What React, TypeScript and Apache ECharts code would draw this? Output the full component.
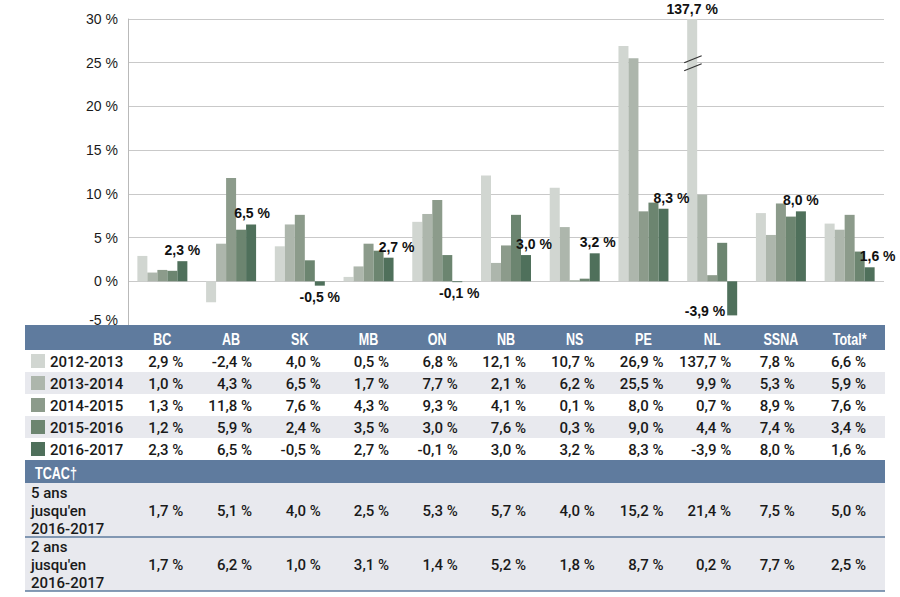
import React, { useEffect, useRef } from "react";
import * as echarts from "echarts";

// ---------- data ----------
const categories = ["BC", "AB", "SK", "MB", "ON", "NB", "NS", "PE", "NL", "SSNA", "Total*"];
const years = ["2012-2013", "2013-2014", "2014-2015", "2015-2016", "2016-2017"];
const s2012 = [2.9, -2.4, 4.0, 0.5, 6.8, 12.1, 10.7, 26.9, 137.7, 7.8, 6.6];
const s2013 = [1.0, 4.3, 6.5, 1.7, 7.7, 2.1, 6.2, 25.5, 9.9, 5.3, 5.9];
const s2014 = [1.3, 11.8, 7.6, 4.3, 9.3, 4.1, 0.1, 8.0, 0.7, 8.9, 7.6];
const s2015 = [1.2, 5.9, 2.4, 3.5, 3.0, 7.6, 0.3, 9.0, 4.4, 7.4, 3.4];
const s2016 = [2.3, 6.5, -0.5, 2.7, -0.1, 3.0, 3.2, 8.3, -3.9, 8.0, 1.6];
const seriesValues = [s2012, s2013, s2014, s2015, s2016];
const tcacTitle = "TCAC†";
const tcacLabels = [
  ["5 ans", "jusqu'en", "2016-2017"],
  ["2 ans", "jusqu'en", "2016-2017"],
];
const cagr5 = [1.7, 5.1, 4.0, 2.5, 5.3, 5.7, 4.0, 15.2, 21.4, 7.5, 5.0];
const cagr2 = [1.7, 6.2, 1.0, 3.1, 1.4, 5.2, 1.8, 8.7, 0.2, 7.7, 2.5];
const tcacValues = [cagr5, cagr2];
const yTicks = { min: -5, max: 30, interval: 5 };
const breakAt = 25; // value where the axis-break marks sit on the clipped bar

// ---------- styles ----------
const colors = ["#d1d6d1", "#adb6ac", "#8c9b8b", "#6c8570", "#4f705b"];
const headerBlue = "#5f7b9e";
const rowGrey = "#e8e9ee";
const textDark = "#1a1a1a";
const arial = '"Liberation Sans", Arial, sans-serif';
const bodyFont = 'Roboto, "Noto Sans", sans-serif';
const labelNudge = [0, 1, 0, 8, 2, 8, 3, 8, 0, 0, 8];
const valueShift = [21, 21, 21, 20.5, 20.5, 20, 20, 20, 19, 14, 16.5];

const fmt = (v: number) => v.toFixed(1).replace(".", ",") + " %";

export default function App() {
  const ref = useRef<HTMLDivElement>(null);

  useEffect(() => {
    const chart = echarts.init(ref.current!, null, { renderer: "svg" });

    const labelBase = {
      show: true,
      fontFamily: arial,
      fontWeight: "bold" as const,
      fontSize: 14,
      color: "#111",
      distance: 4,
    };

    const series: any[] = seriesValues.map((vals, si) => ({
      name: years[si],
      type: "bar",
      barWidth: 10,
      barGap: "0%",
      itemStyle: { color: colors[si] },
      label: { show: false },
      data: vals.map((v, i) => {
        const item: any = { value: Math.min(v, yTicks.max) };
        if (si === 4) {
          if (v < 0 && categories[i] === "NL") {
            item.label = { ...labelBase, position: "left", distance: 2, offset: [0, 13], formatter: () => fmt(v) };
          } else {
            item.label = {
              ...labelBase,
              position: v < 0 ? "bottom" : "top",
              offset: [labelNudge[i], 0],
              formatter: () => fmt(v),
            };
          }
        } else if (v > yTicks.max) {
          item.label = { ...labelBase, position: "top", distance: 3, formatter: () => fmt(v) };
        }
        return item;
      }),
    }));

    // axis-break marks on bars that exceed the axis max
    const breakData: any[] = [];
    seriesValues.forEach((vals, si) =>
      vals.forEach((v, i) => {
        if (v > yTicks.max) breakData.push([i, breakAt, si]);
      })
    );
    series.push({
      type: "custom",
      silent: true,
      z: 10,
      data: breakData,
      renderItem: (_params: any, api: any) => {
        const p = api.coord([api.value(0), api.value(1)]);
        const si = api.value(2);
        const barCenter = p[0] + (si - 2) * 10;
        const x1 = barCenter - 8;
        const x2 = barCenter + 9.5;
        const st = { stroke: "#333", lineWidth: 1.2 };
        return {
          type: "group",
          children: [
            { type: "line", shape: { x1, y1: p[1], x2, y2: p[1] - 7 }, style: st },
            { type: "line", shape: { x1, y1: p[1] + 8, x2, y2: p[1] + 1 }, style: st },
          ],
        };
      },
    });

    chart.setOption({
      animation: false,
      grid: { left: 128, right: 16, top: 19, bottom: 272 },
      xAxis: {
        type: "category",
        data: categories,
        axisLine: { show: false },
        axisTick: { show: false },
        axisLabel: { show: false },
        splitLine: { show: false },
      },
      yAxis: {
        type: "value",
        min: yTicks.min,
        max: yTicks.max,
        interval: yTicks.interval,
        axisLine: { show: true, lineStyle: { color: "#b9b9b9", width: 1 } },
        axisTick: { show: false },
        splitLine: { lineStyle: { color: "#c9c9c9", width: 1 } },
        axisLabel: {
          formatter: (v: number) => (v === yTicks.min ? `{low|${v} %}` : `${v} %`),
          fontSize: 14,
          color: textDark,
          margin: 10,
          fontFamily: arial,
          rich: {
            low: { fontSize: 14, color: textDark, fontFamily: arial, padding: [0, 0, 11, 0] },
          },
        },
      },
      series,
    });

    // ---------- table (graphic), columns aligned to the axis categories ----------
    const xs = categories.map((_, i) => chart.convertToPixel({ xAxisIndex: 0 }, i) as number);
    const L = 25, W = 860;
    const els: any[] = [];
    const txt = (text: string, x: number, y: number, o: any = {}) => ({
      type: "text",
      z: 101,
      x,
      y,
      scaleX: o.scaleX || 1,
      style: {
        text,
        x: 0,
        y: 0,
        fill: o.fill || textDark,
        fontSize: o.fontSize || 15,
        fontFamily: o.fontFamily || bodyFont,
        fontWeight: o.fontWeight || 500,
        align: o.align || "left",
        textAlign: o.align || "left",
        verticalAlign: "middle",
        textVerticalAlign: "middle",
      },
    });
    const rect = (x: number, y: number, w: number, h: number, fill: string) => ({
      type: "rect",
      z: 100,
      shape: { x, y, width: w, height: h },
      style: { fill },
    });
    const headOpts = { fill: "#fff", fontFamily: arial, fontWeight: "bold", fontSize: 17, scaleX: 0.74 };

    // header
    const headY = 325, headH = 25;
    els.push(rect(L, headY, W, headH, headerBlue));
    categories.forEach((c, i) => els.push(txt(c, xs[i], headY + headH / 2 + 1, { ...headOpts, align: "center" })));
    // year rows
    const rowH = 22;
    years.forEach((yr, r) => {
      const y0 = headY + headH + r * rowH;
      const cy = y0 + rowH / 2;
      els.push(rect(L, y0, W, rowH, r % 2 ? rowGrey : "#ffffff"));
      els.push(rect(31, cy - 7, 14, 14, colors[r]));
      els.push(txt(yr, 50, cy + 1));
      seriesValues[r].forEach((v, i) => els.push(txt(fmt(v), xs[i] + valueShift[i], cy + 1, { align: "right" })));
    });
    // TCAC header
    const tY = headY + headH + years.length * rowH;
    const tH = 23;
    els.push(rect(L, tY, W, tH, headerBlue));
    els.push(txt(tcacTitle, 35, tY + tH / 2 + 1, headOpts));
    // TCAC rows
    const bigH = 54;
    tcacValues.forEach((vals, r) => {
      const y0 = tY + tH + r * bigH;
      const cy = y0 + bigH / 2;
      els.push(rect(L, y0, W, bigH, rowGrey));
      els.push({
        type: "line",
        z: 102,
        shape: { x1: L, y1: y0 + bigH, x2: L + W, y2: y0 + bigH },
        style: { stroke: headerBlue, lineWidth: 1.5 },
      });
      tcacLabels[r].forEach((ln, k) => els.push(txt(ln, 31, cy + (k - 1) * 18 + 1)));
      vals.forEach((v, i) => els.push(txt(fmt(v), xs[i] + valueShift[i], cy + 1, { align: "right" })));
    });

    chart.setOption({ graphic: { elements: els } });

    return () => chart.dispose();
  }, []);

  return (
    <div
      ref={ref}
      style={{ position: "absolute", left: 0, top: 0, width: 900, height: 597, background: "#fff" }}
    />
  );
}
